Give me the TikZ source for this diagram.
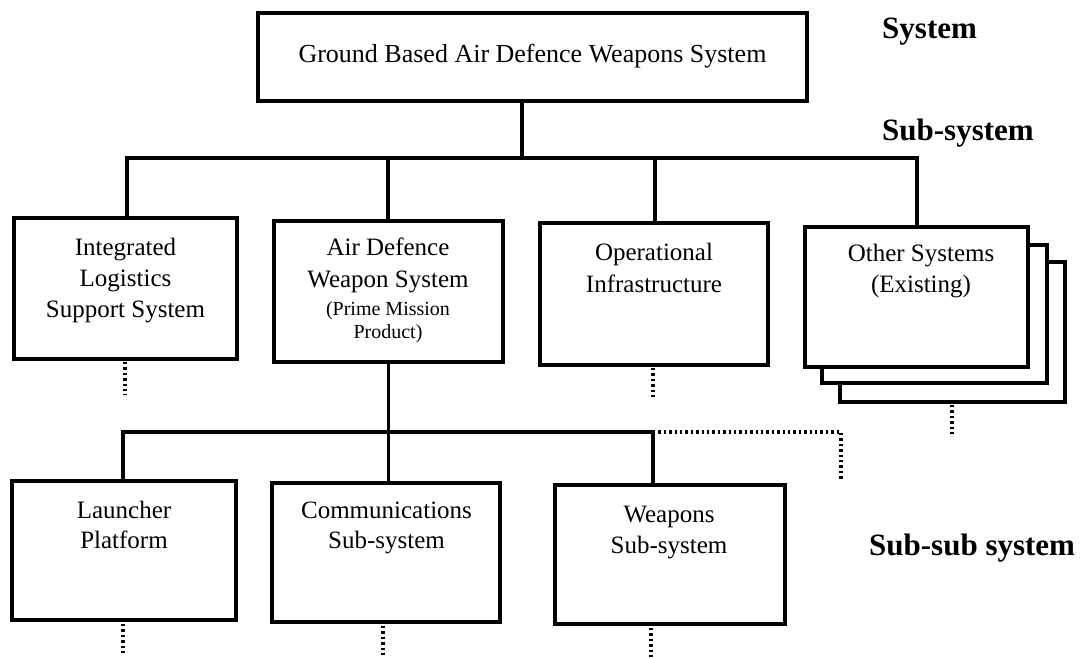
\documentclass[tikz,border=0pt]{standalone}
\usepackage{fontspec}
\setmainfont{Liberation Serif}
\begin{document}
\begin{tikzpicture}[x=1pt,y=-1pt,
  box/.style={draw, line width=3.6pt, fill=white, inner sep=0pt, outer sep=0pt},
  conn/.style={line width=3.4pt},
  dotline/.style={line width=3.4pt, dash pattern=on 2.3pt off 3.1pt},
  txt/.style={inner sep=0pt, align=center, anchor=north},
  lbl/.style={inner sep=0pt, anchor=base west, font=\fontsize{31}{36}\selectfont\bfseries}]
\useasboundingbox (0,0) rectangle (1086,658);

% top box
\node[box, minimum width=549pt, minimum height=88pt] (top) at (532.5,57) {};
\node[inner sep=0pt, anchor=base, font=\fontsize{26}{31}\selectfont] (toptxt) at (532.5,63) {Ground Based Air Defence Weapons System};

% level labels
\node[lbl] (lsys) at (882,39) {System};
\node[lbl] (lsub) at (882,140) {Sub-system};
\node[lbl] (lsubsub) at (869,555) {Sub-sub system};

% sub-system boxes
\node[box, minimum width=223pt, minimum height=141pt] (ils) at (125.5,288.5) {};
\node[box, minimum width=229pt, minimum height=141pt] (adws) at (388.5,291.5) {};
\node[box, minimum width=228pt, minimum height=142pt] (op) at (654,294) {};
\node[box, minimum width=225pt, minimum height=140pt] (oth3) at (952.5,332) {};
\node[box, minimum width=225pt, minimum height=138pt] (oth2) at (934.5,314) {};
\node[box, minimum width=223pt, minimum height=140pt] (oth) at (916.5,297) {};

\node[txt, font=\fontsize{25}{31}\selectfont] (ilstxt) at (125.5,233.3) {\strut Integrated\\Logistics\\Support System};
\node[txt, font=\fontsize{25}{32}\selectfont] (adwstxt) at (388,232.6) {\strut Air Defence\\Weapon System};
\node[txt, font=\fontsize{20}{23}\selectfont] (adwssub) at (388,298.9) {\strut (Prime Mission\\Product)};
\node[txt, font=\fontsize{25}{32}\selectfont] (optxt) at (654,237.6) {\strut Operational\\Infrastructure};
\node[txt, font=\fontsize{25}{31}\selectfont] (othtxt) at (921,239.3) {\strut Other Systems\\(Existing)};

% sub-sub-system boxes
\node[box, minimum width=224pt, minimum height=139pt] (launch) at (124,550.5) {};
\node[box, minimum width=228pt, minimum height=139pt] (comm) at (386,552.5) {};
\node[box, minimum width=230pt, minimum height=139pt] (weap) at (670,554.5) {};

\node[txt, font=\fontsize{25}{30}\selectfont] (launchtxt) at (124,497) {\strut Launcher\\Platform};
\node[txt, font=\fontsize{25}{30}\selectfont] (commtxt) at (386.5,497) {\strut Communications\\Sub-system};
\node[txt, font=\fontsize{25}{31}\selectfont] (weaptxt) at (669,500.3) {\strut Weapons\\Sub-system};

% junction coordinates
\coordinate (tj) at (522,158);
\coordinate (b1) at (127,158);
\coordinate (b2) at (388,158);
\coordinate (b3) at (655,158);
\coordinate (b4) at (917,158);
\coordinate (c1) at (123,432);
\coordinate (c3) at (653,432);
\coordinate (c4) at (841,432);
\coordinate (c5) at (841,481);
\coordinate (d1) at (125,395);
\coordinate (d2) at (653,399);
\coordinate (d3) at (952,436);
\coordinate (e1) at (123,654);
\coordinate (e2) at (383,656);
\coordinate (e3) at (651,658);

% solid connectors
\draw[conn] (top.south -| tj) -- (tj);
\draw[conn] (b1 |- ils.north) -- (b1) -- (b4) -- (b4 |- oth.north);
\draw[conn] (b2) -- (b2 |- adws.north);
\draw[conn] (b3) -- (b3 |- op.north);
\draw[conn] (adws.south) -- (adws.south |- comm.north);
\draw[conn] (c1 |- launch.north) -- (c1) -- (c3) -- (c3 |- weap.north);

% dotted connectors
\draw[dotline] (c3) -- (c4) -- (c5);
\draw[dotline] ([yshift=-3pt]ils.south -| d1) -- (d1);
\draw[dotline] ([yshift=-3pt]op.south -| d2) -- (d2);
\draw[dotline] ([yshift=-3pt]oth3.south -| d3) -- (d3);
\draw[dotline] ([yshift=-4pt]launch.south -| e1) -- (e1);
\draw[dotline] ([yshift=-4pt]comm.south -| e2) -- (e2);
\draw[dotline] ([yshift=-4pt]weap.south -| e3) -- (e3);
\end{tikzpicture}
\end{document}
